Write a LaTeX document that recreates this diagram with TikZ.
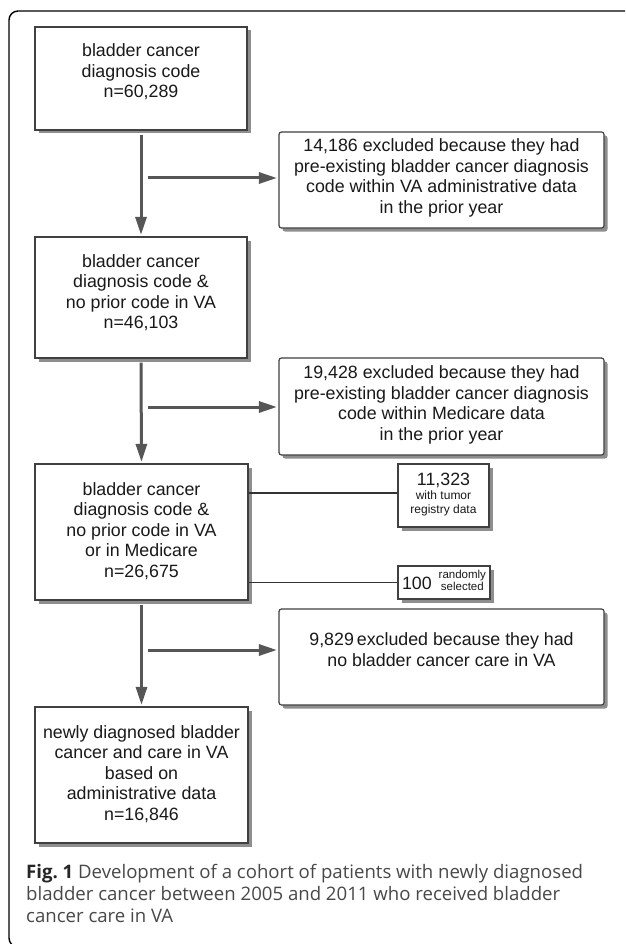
\documentclass[tikz,border=0pt]{standalone}
\usepackage{fontspec}
\setmainfont{Liberation Sans}
\newfontfamily\capfont{Open Sans}
\usetikzlibrary{arrows.meta,shadows}
\definecolor{boxline}{HTML}{404040}
\definecolor{arrowgray}{HTML}{565656}
\definecolor{shadowgray}{HTML}{8E8E8E}
\definecolor{captext}{HTML}{484848}
\definecolor{linkgray}{HTML}{333333}
\newcommand\bxt[2]{\raisebox{#1}[\height][\depth]{\begin{tabular}{@{}c@{}}#2\end{tabular}}}
\begin{document}
\begin{tikzpicture}[x=1pt,y=-1pt,
  box/.style={draw=boxline, line width=1.2pt, fill=white, inner sep=0pt,
    text=black!90, font=\fontsize{17.8}{20.5}\selectfont,
    drop shadow={shadow xshift=3.5pt, shadow yshift=-3.5pt, fill=shadowgray, opacity=1}},
  mainbox/.style={box, minimum width=212pt},
  exbox/.style={box, rounded corners=2.5pt, minimum width=325pt},
  smallbox/.style={box, font=\fontsize{12}{14}\selectfont},
  arr/.style={draw=arrowgray, line width=3pt, -{Triangle[length=18pt,width=11pt]}, shorten >=1.5pt},
  link/.style={draw=linkgray, line width=1.2pt},
  captxt/.style={anchor=base west, inner sep=0pt, font=\capfont\fontsize{18.6}{22}\selectfont, text=captext}
]
\useasboundingbox (0,0) rectangle (625,944);
\clip (0,0) rectangle (625,944);
\fill[white] (0,0) rectangle (625,944);
\draw[line width=1.4pt, rounded corners=9pt] (9,11) rectangle (680,947);

% main column
\node[mainbox, minimum height=103pt] (b1) at (141,78.5)
  {\bxt{5.5pt}{bladder cancer\\diagnosis code\\n=60,289}};
\node[mainbox, minimum height=121pt] (b2) at (141,297.5)
  {\bxt{3.5pt}{bladder cancer\\diagnosis code \&\\no prior code in VA\\n=46,103}};
\node[mainbox, minimum width=213pt, minimum height=136pt] (b3) at (141.5,532)
  {\bxt{0pt}{bladder cancer\\diagnosis code \&\\no prior code in VA\\or in Medicare\\n=26,675}};
\node[mainbox, minimum width=213pt, minimum height=136pt] (b4) at (141.5,775)
  {\bxt{0pt}{newly diagnosed bladder\\cancer and care in VA\\based on\\administrative data\\n=16,846}};

% exclusion boxes
\node[exbox, minimum height=96pt] (e1) at (441.5,180)
  {\bxt{1.5pt}{14,186 excluded because they had\\pre-existing bladder cancer diagnosis\\code within VA administrative data\\in the prior year}};
\node[exbox, minimum height=97pt] (e2) at (441.5,406.5)
  {\bxt{1pt}{19,428 excluded because they had\\pre-existing bladder cancer diagnosis\\code within Medicare data\\in the prior year}};
\node[exbox, minimum height=96pt] (e3) at (441.5,657)
  {\bxt{5pt}{9,829\,excluded because they had\\no bladder cancer care in VA}};

% small boxes
\node[smallbox, minimum width=91pt, minimum height=63pt] (s1) at (443.5,495.5)
  {\begin{tabular}{@{}c@{}}{\fontsize{17.8}{18}\selectfont 11,323}\\with tumor\\registry data\end{tabular}};
\node[smallbox, minimum width=92pt, minimum height=33pt] (s2) at (444,582.5)
  {{\fontsize{17.8}{18}\selectfont 100}\hspace{7pt}{\fontsize{11.5}{12}\selectfont\raisebox{3.5pt}{\begin{tabular}[c]{@{}c@{}}randomly\\selected\end{tabular}}}};

% vertical arrows
\draw[arr] ([yshift=-4pt]b1.south) -- (b2.north);
\draw[arr] ([yshift=-4pt]b2.south) -- (b3.north);
\draw[arr] ([yshift=-4pt]b3.south) -- (b4.north);

% horizontal arrows
\coordinate (h1) at (148,178);
\coordinate (h2) at (148,407);
\coordinate (h3) at (148,650);
\draw[arr] (h1) -- (h1 -| e1.west);
\draw[arr] (h2) -- (h2 -| e2.west);
\draw[arr] (h3) -- (h3 -| e3.west);

% links to small boxes
\coordinate (l1) at (300,493);
\draw[link] (l1 -| b3.east) -- (l1 -| s1.west);
\draw[link] (s2.west -| b3.east) -- (s2.west);

% caption
\node[captxt] (c1) at (26,878) {{\bfseries\color{black!85}Fig.\ 1} Development of a cohort of patients with newly diagnosed};
\node[captxt] (c2) at (26,900) {bladder cancer between 2005 and 2011 who received bladder};
\node[captxt] (c3) at (26,922) {cancer care in VA};
\end{tikzpicture}
\end{document}
